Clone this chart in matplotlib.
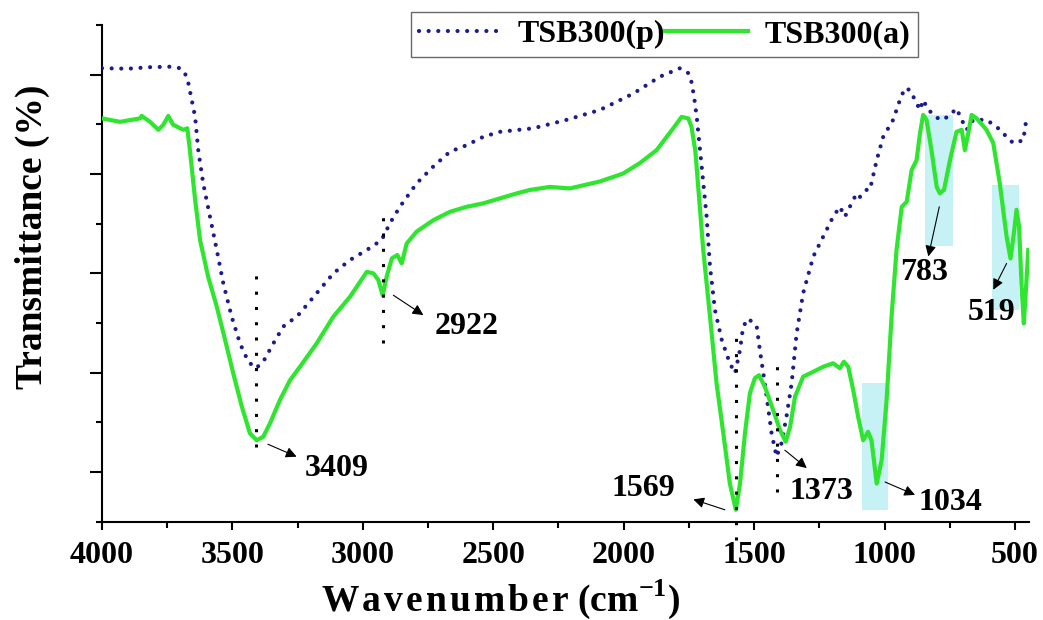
import matplotlib
matplotlib.use('Agg')
import matplotlib.pyplot as plt
from matplotlib.patches import Rectangle

plt.rcParams['font.family'] = ['Liberation Serif', 'DejaVu Serif']
plt.rcParams['font.weight'] = 'bold'
plt.rcParams['mathtext.fontset'] = 'custom'
plt.rcParams['mathtext.rm'] = 'Liberation Serif:bold'
plt.rcParams['mathtext.bf'] = 'Liberation Serif:bold'

# TSB300(p) spectrum (wavenumber, transmittance in arbitrary units)
p_wn = [4000, 3900, 3820, 3740, 3700, 3682, 3669, 3656, 3643, 3631, 3612, 3586,
        3560, 3535, 3503, 3471, 3439, 3410, 3382, 3343, 3305, 3254, 3241, 3177,
        3113, 3049, 2985, 2928, 2896, 2858, 2794, 2730, 2666, 2602, 2538, 2474,
        2347, 2219, 2091, 1963, 1861, 1784, 1752, 1740, 1730, 1720, 1701, 1682,
        1669, 1650, 1624, 1593, 1573, 1554, 1542, 1522, 1490, 1478, 1459, 1433,
        1414, 1395, 1376, 1356, 1337, 1312, 1273, 1235, 1197, 1171, 1152, 1133,
        1107, 1094, 1069, 1056, 1030, 1005, 967, 941, 922, 903, 883, 864, 852,
        832, 788, 756, 724, 704, 685, 660, 609, 570, 532, 506, 468, 455]
p_t = [9.13, 9.12, 9.15, 9.16, 9.13, 9.03, 8.83, 8.49, 8.15, 7.48, 6.81, 6.14,
       5.47, 4.80, 4.13, 3.59, 3.22, 3.09, 3.22, 3.59, 3.93, 4.13, 4.20, 4.60,
       5.00, 5.27, 5.47, 5.67, 6.01, 6.34, 6.81, 7.15, 7.45, 7.58, 7.75, 7.85,
       7.92, 8.09, 8.29, 8.62, 8.96, 9.13, 9.03, 8.85, 8.55, 8.15, 7.15, 6.14,
       5.13, 4.26, 3.66, 3.19, 2.99, 3.46, 3.93, 4.09, 3.93, 3.46, 2.79, 1.78,
       1.31, 1.58, 2.11, 2.79, 3.79, 4.60, 5.34, 5.74, 6.14, 6.34, 6.14, 6.34,
       6.61, 6.54, 6.68, 6.68, 7.28, 7.75, 8.09, 8.49, 8.73, 8.69, 8.49, 8.29, 8.49,
       8.29, 8.09, 8.15, 8.32, 8.09, 7.89, 8.09, 8.09, 7.95, 7.75, 7.62, 7.68, 8.15]

# TSB300(a) spectrum
a_wn = [4000, 3931, 3854, 3848, 3816, 3784, 3765, 3746, 3727, 3688, 3673, 3663,
        3643, 3624, 3593, 3560, 3528, 3497, 3464, 3433, 3407, 3382, 3356, 3318,
        3279, 3241, 3177, 3113, 3049, 2985, 2960, 2941, 2924, 2909, 2889, 2868,
        2851, 2832, 2794, 2730, 2666, 2602, 2538, 2474, 2410, 2359, 2283, 2206,
        2091, 2002, 1938, 1874, 1810, 1778, 1752, 1740, 1725, 1695, 1669, 1644,
        1618, 1593, 1570, 1554, 1535, 1516, 1497, 1481, 1459, 1427, 1401, 1379,
        1362, 1343, 1312, 1273, 1235, 1197, 1171, 1156, 1139, 1120, 1101, 1082,
        1063, 1050, 1030, 1011, 992, 973, 954, 934, 915, 896, 877, 864, 852, 839,
        820, 800, 788, 772, 749, 724, 704, 692, 679, 666, 647, 609, 583, 558, 532,
        517, 504, 494, 484, 475, 466, 458, 449]
a_t = [8.12, 8.05, 8.12, 8.17, 8.05, 7.89, 7.99, 8.17, 7.99, 7.89, 7.92, 7.48,
       6.48, 5.67, 4.93, 4.33, 3.66, 2.99, 2.32, 1.78, 1.64, 1.71, 1.98, 2.45,
       2.85, 3.12, 3.59, 4.13, 4.53, 5.03, 5.00, 4.87, 4.56, 4.93, 5.30, 5.37,
       5.20, 5.60, 5.84, 6.07, 6.24, 6.34, 6.41, 6.51, 6.61, 6.68, 6.74, 6.71,
       6.85, 7.01, 7.22, 7.48, 7.92, 8.15, 8.12, 7.95, 7.45, 5.47, 4.13, 2.79,
       1.78, 0.77, 0.24, 0.77, 1.78, 2.59, 2.89, 2.95, 2.72, 2.25, 1.85, 1.61,
       1.91, 2.52, 2.92, 3.02, 3.12, 3.19, 3.09, 3.22, 3.12, 2.65, 2.11, 1.64,
       1.81, 1.64, 0.77, 1.24, 2.45, 4.13, 5.47, 6.34, 6.44, 7.08, 7.28, 7.82, 8.19, 8.09,
       7.48, 6.74, 6.61, 6.68, 7.28, 7.85, 7.89, 7.48, 7.82, 8.19, 8.12, 7.89, 7.62, 6.81, 5.74,
       5.30, 5.81, 6.28, 5.94, 4.80, 3.99, 4.66, 5.47]

peaks = ['3409', '2922', '1569', '1373', '1034', '783', '519']

fig = plt.figure(figsize=(10.43, 6.2), dpi=100)
ax = fig.add_axes([0.0978, 0.1585, 0.8888, 0.8012])

FS = 23

# shaded regions
for x0, x1, y0, y1 in [(1088, 986, 0.24, 2.79), (845, 739, 5.55, 8.19), (587, 484, 4.26, 6.78)]:
    ax.add_patch(Rectangle((x1, y0), x0 - x1, y1 - y0, facecolor='#c6f2f6',
                           edgecolor='none', zorder=1))

lp, = ax.plot(p_wn, p_t, color='#1c1c8e', lw=3.0, linestyle=(0, (0.01, 2.3)),
              dash_capstyle='round', zorder=3, label='TSB300(p)')
la, = ax.plot(a_wn, a_t, color='#2fe52f', lw=3.0, zorder=4, label='TSB300(a)')

# dotted guide lines
for x, y0, y1 in [(3409, 1.5, 5.18), (2922, 3.6, 6.34), (1569, -0.37, 3.93), (1412, 0.6, 3.36)]:
    ax.plot([x, x], [y0, y1], color='black', lw=2.2, linestyle=(0, (1, 4)),
            clip_on=False, zorder=5)

# peak labels with arrows: (text x, text y, tail, head)
places = [(3099, 1.08, (3364, 1.56), (3254, 1.31)),
          (2602, 3.94, (2883, 4.56), (2768, 4.16)),
          (1926, 0.66, (1612, 0.24), (1733, 0.45)),
          (1240, 0.60, (1382, 1.44), (1298, 1.08)),
          (747, 0.38, (998, 0.80), (883, 0.54)),
          (849, 5.01, (790, 6.34), (832, 5.34)),
          (588, 4.22, (532, 5.20), (583, 4.67))]
for lab, (tx, ty, tail, head) in zip(peaks, places):
    ax.annotate('', xy=head, xytext=tail,
                arrowprops=dict(arrowstyle='-|>', color='black', lw=0.8,
                                mutation_scale=16, shrinkA=0, shrinkB=0), zorder=6)
    ax.text(tx, ty, lab, fontsize=FS, fontweight='bold', ha='center', va='center', zorder=6)

ax.set_xlim(4000, 446)
ax.set_ylim(0, 10)
ax.set_xticks(range(4000, 499, -500))
ax.set_xticks(range(3750, 499, -500), minor=True)
ax.set_yticks([1, 3, 5, 7, 9])
ax.set_yticks([0, 2, 4, 6, 8, 10], minor=True)
ax.set_yticklabels([])
ax.tick_params(axis='x', which='major', direction='out', length=6, width=1.5,
               labelsize=FS, pad=8)
ax.tick_params(axis='x', which='minor', direction='out', length=4, width=1.5)
ax.tick_params(axis='y', which='major', direction='out', length=9, width=1.5)
ax.tick_params(axis='y', which='minor', direction='out', length=4, width=1.5)
for t in ax.get_xticklabels():
    t.set_fontweight('bold')
for s in ['top', 'right']:
    ax.spines[s].set_visible(False)
for s in ['left', 'bottom']:
    ax.spines[s].set_linewidth(1.5)

# slightly letter-spaced axis title, like the original
xlab = '\u200a'.join('Wavenumber') + r' (cm$^{-1}$)'
ax.set_xlabel(xlab, fontsize=27, fontweight='bold')
ax.xaxis.set_label_coords(0.43, -0.112)
ax.set_ylabel('Transmittance (%)', fontsize=27, fontweight='bold')
ax.yaxis.set_label_coords(-0.056, 0.573)

leg = ax.legend(handles=[lp, la], ncol=2, loc='upper right',
                bbox_to_anchor=(918 / 1043, 1 - 12 / 620), bbox_transform=fig.transFigure,
                prop={'size': FS, 'weight': 'bold'}, frameon=True, fancybox=False,
                edgecolor='#444444', handlelength=2.6, handletextpad=0.5,
                columnspacing=0.0, borderpad=0.25, borderaxespad=0)
leg.get_frame().set_linewidth(1.0)

fig.savefig('out.png', dpi=100)
